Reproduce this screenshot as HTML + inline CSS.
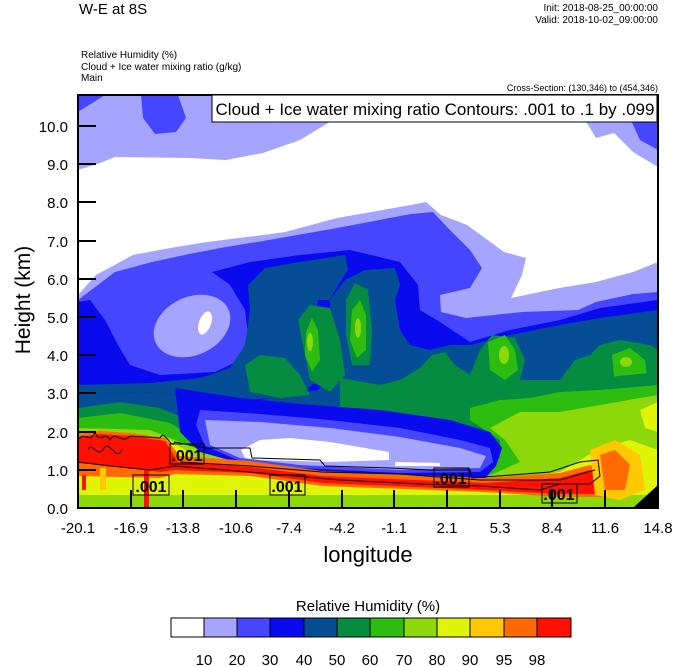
<!DOCTYPE html>
<html><head><meta charset="utf-8"><style>
body{margin:0;background:#fff;}
svg{display:block;font-family:"Liberation Sans",sans-serif;}
</style></head><body>
<svg width="674" height="667" viewBox="0 0 674 667" xmlns="http://www.w3.org/2000/svg">
<defs><clipPath id="c"><rect x="78" y="95" width="580" height="413"/></clipPath></defs>
<g clip-path="url(#c)">
<rect x="78" y="95" width="580" height="413" fill="#a5a5ff"/>
<polygon points="78,95 105,95 78,112" fill="#4646ff"/>
<polygon points="141,95 178,95 186,118 176,132 155,134 143,118" fill="#4646ff"/>
<polygon points="633,95 658,95 658,150 640,140 630,118" fill="#4646ff"/>
<polygon points="78,170 100,163 115,157 189,158 226,160 263,153 300,140 333,120 585,120 596,138 614,133 633,152 658,167 658,262 633,272 596,282 559,288 511,298 522,275 526,258 504,252 485,238 467,225 441,215 426,202 411,205 337,218 285,232 263,235 207,242 170,248 133,255 96,275 78,295" fill="#fff"/>
<polygon points="78,300 115,272 152,262 189,254 226,247 263,241 337,228 411,214 433,212 448,228 470,250 482,268 470,288 440,295 441,312 466,318 522,312 578,310 596,302 633,294 658,292 658,508 78,508" fill="#4646ff"/>
<polygon points="78,302 90,300 105,320 118,345 130,365 160,375 215,372 240,360 248,335 245,310 230,285 212,272 250,262 300,255 350,250 400,262 418,285 420,310 440,322 455,332 470,342 510,330 560,320 600,308 658,300 658,508 78,508" fill="#0a0aef"/>
<ellipse cx="192" cy="326" rx="40" ry="29" fill="#a5a5ff" transform="rotate(-25 192 326)"/>
<ellipse cx="205" cy="323" rx="6" ry="12" fill="#fff" transform="rotate(20 205 323)"/>
<polygon points="78,385 150,383 200,378 230,368 245,345 250,310 248,285 265,268 300,262 345,255 348,270 338,285 330,300 318,300 312,330 318,380 300,395 250,400 200,398 150,392 78,395" fill="#054d95"/>
<polygon points="330,300 345,280 365,270 395,268 400,285 395,300 400,330 410,345 430,350 450,345 470,345 510,335 560,325 600,318 658,310 658,508 400,508 330,508" fill="#054d95"/>
<polygon points="78,395 150,392 200,398 250,402 318,390 330,380 330,508 78,508" fill="#054d95"/>
<polygon points="298,320 310,305 330,308 340,340 345,375 330,392 310,380" fill="#058c40"/>
<polygon points="346,300 355,283 368,290 372,330 370,365 352,365 346,335" fill="#058c40"/>
<polygon points="245,365 260,355 285,358 300,375 310,395 280,398 250,392" fill="#058c40"/>
<polygon points="340,378 380,385 400,380 420,368 432,355 445,352 455,365 470,375 480,350 492,335 515,338 525,360 520,380 560,380 575,360 590,355 600,345 620,340 650,345 658,350 658,508 340,508" fill="#058c40"/>
<polygon points="306,332 312,318 318,330 320,360 312,372 305,355" fill="#2dbd10"/>
<polygon points="352,310 360,300 366,315 366,350 357,358 350,340" fill="#2dbd10"/>
<polygon points="488,342 505,335 515,350 518,370 505,380 490,370" fill="#2dbd10"/>
<polygon points="612,355 630,348 645,360 648,385 635,395 615,385" fill="#2dbd10"/>
<ellipse cx="358" cy="328" rx="3" ry="10" fill="#8cd80a"/>
<ellipse cx="310" cy="342" rx="3" ry="9" fill="#8cd80a"/>
<ellipse cx="504" cy="355" rx="5" ry="9" fill="#8cd80a"/>
<ellipse cx="626" cy="362" rx="6" ry="5" fill="#8cd80a"/>
<polygon points="78,408 120,402 160,408 200,425 240,450 330,462 420,468 470,470 490,460 500,440 470,410 430,390 420,382 440,378 470,384 520,380 560,382 600,378 658,372 658,508 78,508" fill="#058c40"/>
<polygon points="78,418 120,413 170,423 220,455 330,468 480,475 500,458 500,440 470,420 470,408 500,400 530,398 560,392 600,390 658,385 658,508 78,508" fill="#2dbd10"/>
<polygon points="78,428 150,430 200,450 250,465 350,472 480,480 520,462 505,440 490,428 520,412 560,412 600,405 640,398 658,395 658,508 78,508" fill="#8cd80a"/>
<polygon points="640,410 658,402 658,432 645,428" fill="#dff505"/>
<polygon points="78,435 170,440 200,460 300,475 480,485 560,472 600,448 630,440 658,450 658,508 78,508" fill="#dff505"/>
<polygon points="78,495 658,495 658,508 78,508" fill="#8cd80a"/>
<polygon points="175,388 240,398 300,404 380,410 450,420 490,432 502,448 496,466 485,478 400,477 300,471 240,463 200,452 180,432" fill="#0a0aef"/>
<polygon points="200,410 260,414 330,420 400,428 460,440 490,448 493,462 480,472 400,473 300,468 240,461 205,446 196,425" fill="#4646ff"/>
<polygon points="205,420 260,422 330,428 400,437 460,448 486,456 480,468 400,470 300,465 240,458 210,445" fill="#a5a5ff"/>
<polygon points="241,450 260,440 290,438 330,442 389,452 389,460 330,462 260,460 245,458" fill="#fff"/>
<polygon points="395,462 440,463 440,466 395,466" fill="#fff"/>
<polygon points="78,434 100,431 130,433 165,438 180,456 250,461 322,471 485,478 560,473 590,465 605,470 605,497 560,497 485,492 322,486 250,476 175,474 160,478 78,476" fill="#ff6a00"/>
<polygon points="78,437 100,434 130,436 165,441 178,462 250,467 322,476 485,483 560,478 590,470 600,478 600,494 560,494 485,490 322,483 250,473 175,470 160,472 130,468 100,465 78,463" fill="#ff1000"/>
<polygon points="590,450 615,440 640,455 645,490 620,500 595,495" fill="#ffc800"/>
<polygon points="600,455 615,450 630,465 625,490 605,490" fill="#ff6a00"/>
<rect x="144" y="470" width="5" height="38" fill="#ff1000"/>
<rect x="82" y="475" width="4" height="15" fill="#ff1000"/>
<rect x="100" y="468" width="6" height="22" fill="#ffc800"/>
<polygon points="633,508 658,485 658,508" fill="#000"/>
<g fill="none" stroke="#000" stroke-width="1">
<path d="M78,440 C85,430 90,445 95,432 C100,445 105,430 110,440 C115,430 122,445 130,436 L160,438 C165,428 170,450 175,442 L205,448 L250,448 L252,458 L320,460 L325,466 L390,468 L430,470 L470,470 L472,478 L550,472 L580,462 L598,460 L600,476 L590,484 L560,484 L540,490 L480,486 L420,484 L340,480 L250,472 L175,466 L150,470 L110,466 L78,462"/>
<path d="M180,462 L250,466 L322,472 L400,474 L480,480 L560,480 L595,470"/>
<path d="M88,450 C92,440 98,460 104,448 C110,440 116,462 122,450"/>
</g>
<g fill="none" stroke="#000" stroke-width="1">
<rect x="170" y="444" width="34" height="20"/>
<rect x="133" y="475" width="36" height="20"/>
<rect x="270" y="475" width="35" height="20"/>
<rect x="434" y="468" width="35" height="19"/>
<rect x="542" y="484" width="35" height="19"/>
</g>
<g font-size="16" font-weight="bold" fill="#000" text-anchor="middle">
<text x="187" y="461">.001</text>
<text x="151" y="492">.001</text>
<text x="287" y="492">.001</text>
<text x="451" y="484">.001</text>
<text x="559" y="500">.001</text>
</g>
</g>
<rect x="78" y="95" width="580" height="413" fill="none" stroke="#000" stroke-width="2"/>
<g stroke="#000" stroke-width="2">
<line x1="78" y1="126" x2="96" y2="126"/><line x1="78" y1="164" x2="96" y2="164"/><line x1="78" y1="202" x2="96" y2="202"/><line x1="78" y1="241" x2="96" y2="241"/><line x1="78" y1="279" x2="96" y2="279"/><line x1="78" y1="317" x2="96" y2="317"/><line x1="78" y1="355" x2="96" y2="355"/><line x1="78" y1="393" x2="96" y2="393"/><line x1="78" y1="432" x2="96" y2="432"/><line x1="78" y1="470" x2="96" y2="470"/>
<line x1="131" y1="508" x2="131" y2="490"/><line x1="183" y1="508" x2="183" y2="490"/><line x1="236" y1="508" x2="236" y2="490"/><line x1="289" y1="508" x2="289" y2="490"/><line x1="342" y1="508" x2="342" y2="490"/><line x1="394" y1="508" x2="394" y2="490"/><line x1="447" y1="508" x2="447" y2="490"/><line x1="500" y1="508" x2="500" y2="490"/><line x1="552" y1="508" x2="552" y2="490"/><line x1="605" y1="508" x2="605" y2="490"/>
</g>
<rect x="212" y="95" width="445" height="27" fill="#fff" stroke="#000" stroke-width="1"/>
<text x="435" y="115" font-size="17" text-anchor="middle">Cloud + Ice water mixing ratio Contours: .001 to .1 by .099</text>
<g font-size="15" text-anchor="end">
<text x="68" y="132">10.0</text><text x="68" y="170">9.0</text><text x="68" y="208">8.0</text><text x="68" y="247">7.0</text><text x="68" y="285">6.0</text><text x="68" y="323">5.0</text><text x="68" y="361">4.0</text><text x="68" y="399">3.0</text><text x="68" y="438">2.0</text><text x="68" y="476">1.0</text><text x="68" y="514">0.0</text>
</g>
<g font-size="15" text-anchor="middle">
<text x="78" y="533">-20.1</text><text x="131" y="533">-16.9</text><text x="183" y="533">-13.8</text><text x="236" y="533">-10.6</text><text x="289" y="533">-7.4</text><text x="342" y="533">-4.2</text><text x="394" y="533">-1.1</text><text x="447" y="533">2.1</text><text x="500" y="533">5.3</text><text x="552" y="533">8.4</text><text x="605" y="533">11.6</text><text x="658" y="533">14.8</text>
</g>
<text x="368" y="562" font-size="22" text-anchor="middle">longitude</text>
<text transform="translate(30,300) rotate(-90)" font-size="21" text-anchor="middle">Height (km)</text>
<text x="79" y="14" font-size="15">W-E at 8S</text>
<g font-size="10" text-anchor="end"><text x="658" y="11">Init: 2018-08-25_00:00:00</text><text x="658" y="23">Valid: 2018-10-02_09:00:00</text><text x="658" y="91" font-size="9">Cross-Section: (130,346) to (454,346)</text></g>
<g font-size="10"><text x="81" y="58">Relative Humidity   (%)</text><text x="81" y="70">Cloud + Ice water mixing ratio   (g/kg)</text><text x="81" y="81">Main</text></g>
<text x="368" y="611" font-size="15" text-anchor="middle">Relative Humidity  (%)</text>
<g stroke="#000" stroke-width="1">
<rect x="171" y="618" width="33" height="19" fill="#fff"/><rect x="204" y="618" width="33" height="19" fill="#a5a5ff"/><rect x="237" y="618" width="33" height="19" fill="#4646ff"/><rect x="270" y="618" width="34" height="19" fill="#0a0aef"/><rect x="304" y="618" width="33" height="19" fill="#054d95"/><rect x="337" y="618" width="33" height="19" fill="#058c40"/><rect x="370" y="618" width="34" height="19" fill="#2dbd10"/><rect x="404" y="618" width="33" height="19" fill="#8cd80a"/><rect x="437" y="618" width="33" height="19" fill="#dff505"/><rect x="470" y="618" width="34" height="19" fill="#ffc800"/><rect x="504" y="618" width="33" height="19" fill="#ff6a00"/><rect x="537" y="618" width="34" height="19" fill="#ff1000"/>
</g>
<g font-size="15" text-anchor="middle">
<text x="204" y="665">10</text><text x="237" y="665">20</text><text x="270" y="665">30</text><text x="304" y="665">40</text><text x="337" y="665">50</text><text x="370" y="665">60</text><text x="404" y="665">70</text><text x="437" y="665">80</text><text x="470" y="665">90</text><text x="504" y="665">95</text><text x="537" y="665">98</text>
</g>
</svg>
</body></html>
